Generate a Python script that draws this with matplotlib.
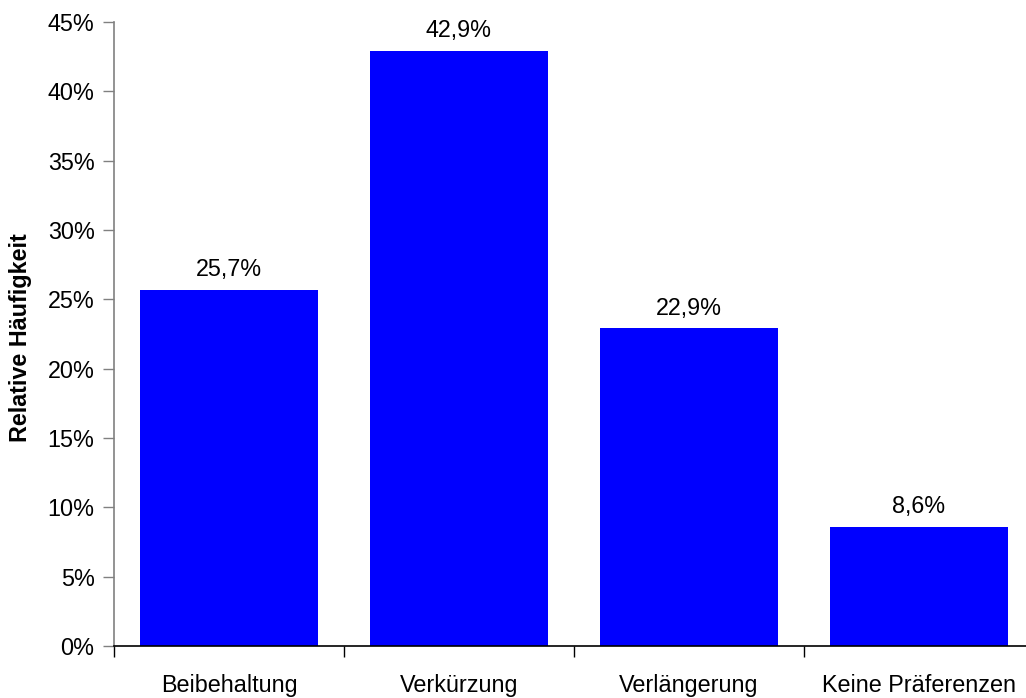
import matplotlib
matplotlib.use("Agg")
import matplotlib.pyplot as plt
from matplotlib.ticker import MultipleLocator, FuncFormatter

categories = ["Beibehaltung", "Verkürzung", "Verlängerung", "Keine Präferenzen"]
values = [25.7, 42.9, 22.9, 8.6]
value_labels = ["25,7%", "42,9%", "22,9%", "8,6%"]

plt.rcParams["font.family"] = ["Liberation Sans", "DejaVu Sans"]
FS = 16.8

fig = plt.figure(figsize=(10.26, 6.98), dpi=100)
ax = fig.add_axes([114 / 1026, 52 / 698, 920 / 1026, 624 / 698])

x = range(len(categories))
ax.bar(x, values, width=0.774, color="#0000ff", zorder=2)

for xi, v, lab in zip(x, values, value_labels):
    ax.text(xi, v + 1.0, lab, ha="center", va="baseline", fontsize=FS, color="black")

ax.set_xlim(-0.5, 3.5)
ax.set_ylim(0, 45)
ax.yaxis.set_major_locator(MultipleLocator(5))
ax.yaxis.set_major_formatter(FuncFormatter(lambda v, p: f"{v:.0f}%"))

ax.set_xticks(list(x))
ax.set_xticklabels(categories, fontsize=FS)
ax.set_xticks([-0.5, 0.5, 1.5, 2.5, 3.5], minor=True)
ax.tick_params(axis="x", which="major", length=0, pad=20)
ax.tick_params(axis="x", which="minor", length=8, width=1, color="black", direction="out")
ax.tick_params(axis="y", length=8, width=1, color="#808080", labelsize=FS, pad=6)

for side in ("top", "right"):
    ax.spines[side].set_visible(False)
ax.spines["left"].set_color("#808080")
ax.spines["left"].set_linewidth(1.2)
ax.spines["bottom"].set_color("black")
ax.spines["bottom"].set_linewidth(1.2)

fig.text(21 / 1026, 1 - 337.5 / 698, "Relative Häufigkeit", rotation=90,
         ha="center", va="center", fontsize=FS, fontweight="bold")

fig.savefig("out.png", dpi=100)
